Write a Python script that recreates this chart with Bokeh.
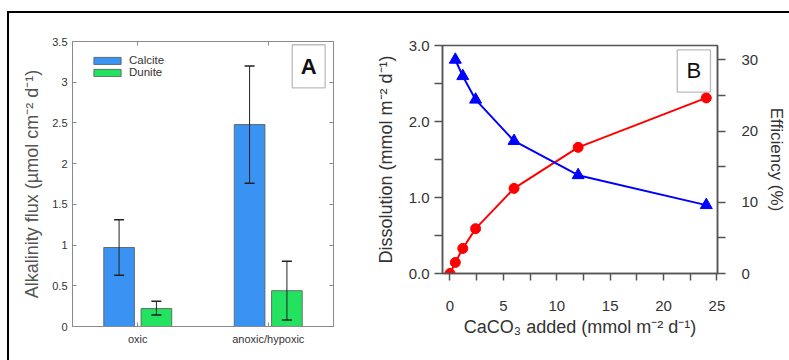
import numpy as np
from bokeh.plotting import figure
from bokeh.models import (Range1d, LinearAxis, FixedTicker, CustomJSTickFormatter, ColumnDataSource,
                          Whisker, TeeHead, Legend, LegendItem, BoxAnnotation, Label, Div, Spacer)
from bokeh.layouts import row, column
from bokeh.embed import file_html
from bokeh.resources import INLINE

# ---------------- Panel A data ----------------
conditions = ["oxic", "anoxic/hypoxic"]
calcite_flux = [0.97, 2.48]
calcite_low = [0.63, 1.76]
calcite_high = [1.31, 3.20]
dunite_flux = [0.22, 0.44]
dunite_low = [0.14, 0.08]
dunite_high = [0.31, 0.80]
a_yticks = [0, 0.5, 1, 1.5, 2, 2.5, 3, 3.5]

# ---------------- Panel B data ----------------
caco3_added = [0, 0.5, 1.2, 2.4, 6, 12, 24]
dissolution = [0.0, 0.145, 0.33, 0.59, 1.12, 1.66, 2.31]
eff_added = [0.5, 1.2, 2.4, 6, 12, 24]
efficiency = [30.0, 27.7, 24.4, 18.6, 13.8, 9.6]
b_xticks = [0, 5, 10, 15, 20, 25]
b_xminor = [2.5, 7.5, 12.5, 17.5, 22.5]
b_yticks = [0, 1, 2, 3]
b_yminor = [0.5, 1.5, 2.5]
b_rticks = [0, 10, 20, 30]
b_rminor = [5, 15, 25]

FONT = "Liberation Sans"
CALCITE = "#3a92f2"
DUNITE = "#22e260"
AGRAY = "#8a8a8a"
BLANK = CustomJSTickFormatter(code="return '';")

# ================= Panel A =================
pa = figure(width=351, height=347, x_range=Range1d(0.5, 2.5), y_range=Range1d(0, 3.5),
            output_backend="svg", toolbar_location=None, frame_align=False,
            min_border_left=63, min_border_right=27, min_border_top=28, min_border_bottom=34)
pa.xgrid.visible = False
pa.ygrid.visible = False
pa.outline_line_color = AGRAY
pa.outline_line_width = 1

pos = np.arange(1, len(conditions) + 1)
off, bw = 0.143, 0.235
srcA = ColumnDataSource(dict(
    xc=(pos - off).tolist(), xd=(pos + off).tolist(),
    calcite=calcite_flux, dunite=dunite_flux,
    cl=calcite_low, ch=calcite_high, dl=dunite_low, dh=dunite_high))

rc = pa.vbar(x="xc", top="calcite", width=bw, source=srcA,
             fill_color=CALCITE, line_color="#555555", line_width=0.8)
rd = pa.vbar(x="xd", top="dunite", width=bw, source=srcA,
             fill_color=DUNITE, line_color="#555555", line_width=0.8)

for base, lo, hi in (("xc", "cl", "ch"), ("xd", "dl", "dh")):
    wk = Whisker(source=srcA, base=base, lower=lo, upper=hi, line_color="#222222", line_width=1,
                 upper_head=TeeHead(size=10, line_color="#222222", line_width=1.5),
                 lower_head=TeeHead(size=10, line_color="#222222", line_width=1.5))
    wk.level = "overlay"
    pa.add_layout(wk)

xa = pa.xaxis[0]
xa.ticker = FixedTicker(ticks=pos.tolist())
xa.formatter = CustomJSTickFormatter(args=dict(labels=conditions),
                                     code="return labels[Math.round(tick) - 1] || '';")
ya = pa.yaxis[0]
ya.ticker = FixedTicker(ticks=a_yticks)
ya.formatter = CustomJSTickFormatter(code="return tick.toString();")
ya.axis_label = "Alkalinity flux (µmol cm⁻² d⁻¹)"
for ax in (xa, ya):
    ax.major_tick_in = 4
    ax.major_tick_out = 0
    ax.minor_tick_line_color = None
    ax.axis_line_color = AGRAY
    ax.major_tick_line_color = AGRAY
    ax.major_label_text_font = FONT
    ax.major_label_text_font_size = "11px"
    ax.major_label_text_color = "#333333"
    ax.major_label_standoff = 5
xa.major_label_standoff = 6
ya.axis_label_text_font = FONT
ya.axis_label_text_font_size = "18px"
ya.axis_label_text_font_style = "normal"
ya.axis_label_text_color = "#555555"
ya.axis_label_standoff = 7

ra = LinearAxis(ticker=FixedTicker(ticks=a_yticks), formatter=BLANK,
                major_tick_in=4, major_tick_out=0, minor_tick_line_color=None,
                axis_line_color=None, major_tick_line_color=AGRAY, major_label_standoff=0)
pa.add_layout(ra, "right")
ta = LinearAxis(ticker=FixedTicker(ticks=pos.tolist()), formatter=BLANK,
                major_tick_in=4, major_tick_out=0, minor_tick_line_color=None,
                axis_line_color=None, major_tick_line_color=AGRAY, major_label_standoff=0)
pa.add_layout(ta, "above")

legA = Legend(items=[LegendItem(label="Calcite", renderers=[rc]),
                     LegendItem(label="Dunite", renderers=[rd])],
              location=(18, 248), orientation="vertical",
              glyph_width=34, glyph_height=9, label_height=9, spacing=0, padding=0, margin=0,
              label_standoff=5, label_text_font=FONT, label_text_font_size="11.5px",
              label_text_color="#333333", background_fill_alpha=0, border_line_alpha=0)
pa.add_layout(legA)

pa.add_layout(BoxAnnotation(left=2.184, right=2.436, top=3.46, bottom=2.93,
                            fill_color="white", fill_alpha=1, line_color="#222222",
                            line_width=1.3, level="overlay"))
pa.add_layout(Label(x=2.31, y=3.195, text="A", text_align="center", text_baseline="middle",
                    text_font=FONT, text_font_size="22px", text_font_style="bold",
                    text_color="#111111", level="overlay"))

# ================= Panel B =================
BGRAY = "#555555"
pb = figure(width=429, height=347, x_range=Range1d(-0.7, 25.05), y_range=Range1d(0, 3.0),
            output_backend="svg", toolbar_location=None, frame_align=False,
            min_border_left=82, min_border_right=70, min_border_top=32, min_border_bottom=87)
pb.extra_y_ranges = {"eff": Range1d(0, 32)}
pb.xgrid.visible = False
pb.ygrid.visible = False
pb.outline_line_color = BGRAY
pb.outline_line_width = 1.5

pb.line(caco3_added, dissolution, line_color="#ff0000", line_width=2)
pb.scatter(caco3_added, dissolution, marker="circle", size=10,
           fill_color="#ff0000", line_color="#ff0000")
pb.line(eff_added, efficiency, y_range_name="eff", line_color="#0000ff", line_width=2)
pb.scatter(eff_added, efficiency, y_range_name="eff", marker="triangle", size=12,
           fill_color="#0000ff", line_color="#0000ff")

xb = pb.xaxis[0]
xb.ticker = FixedTicker(ticks=b_xticks, minor_ticks=b_xminor)
xb.axis_label = "CaCO₃ added (mmol m⁻² d⁻¹)"
yb = pb.yaxis[0]
yb.ticker = FixedTicker(ticks=b_yticks, minor_ticks=b_yminor)
yb.formatter = CustomJSTickFormatter(code="return tick.toFixed(1);")
yb.axis_label = "Dissolution (mmol m⁻² d⁻¹)"
rb = LinearAxis(y_range_name="eff", ticker=FixedTicker(ticks=b_rticks, minor_ticks=b_rminor),
                axis_label="Efficiency (%)")
pb.add_layout(rb, "right")

for ax in (xb, yb, rb):
    ax.major_tick_in = 0
    ax.major_tick_out = 8
    ax.minor_tick_in = 0
    ax.minor_tick_out = 8
    ax.axis_line_color = BGRAY
    ax.axis_line_width = 1.5
    ax.major_tick_line_color = BGRAY
    ax.minor_tick_line_color = BGRAY
    ax.major_tick_line_width = 1.5
    ax.minor_tick_line_width = 1.5
    ax.major_label_text_font = FONT
    ax.major_label_text_font_size = "15px"
    ax.major_label_text_color = "#333333"
    ax.axis_label_text_font = FONT
    ax.axis_label_text_font_size = "18px"
    ax.axis_label_text_font_style = "normal"
    ax.axis_label_text_color = "#333333"
xb.major_tick_out = 7
xb.minor_tick_out = 7
xb.major_label_standoff = 20
xb.axis_label_standoff = 3
yb.major_label_standoff = 5
yb.axis_label_standoff = 10
rb.major_label_standoff = 16
rb.axis_label_standoff = 6
rb.axis_label_text_font_size = "17px"

pb.add_layout(BoxAnnotation(left=21.28, right=24.39, top=2.943, bottom=2.386,
                            fill_color="white", fill_alpha=1, line_color="#222222",
                            line_width=1.3, level="overlay"))
pb.add_layout(Label(x=22.83, y=2.665, text="B", text_align="center", text_baseline="middle",
                    text_font=FONT, text_font_size="22px", text_color="#111111", level="overlay"))

# ================= Layout =================
W = 7 + 2 + 351 + 429
top_line = Div(text="", width=W - 7, height=2, margin=0, styles={"background-color": "black"})
left_line = Div(text="", width=2, height=347, margin=0, styles={"background-color": "black"})
layout = column(
    Spacer(width=W, height=11),
    row(Spacer(width=7, height=2), top_line, spacing=0),
    row(Spacer(width=7, height=347), left_line, pa, pb, spacing=0),
    spacing=0)

open("out.html", "w").write(file_html(layout, INLINE))
